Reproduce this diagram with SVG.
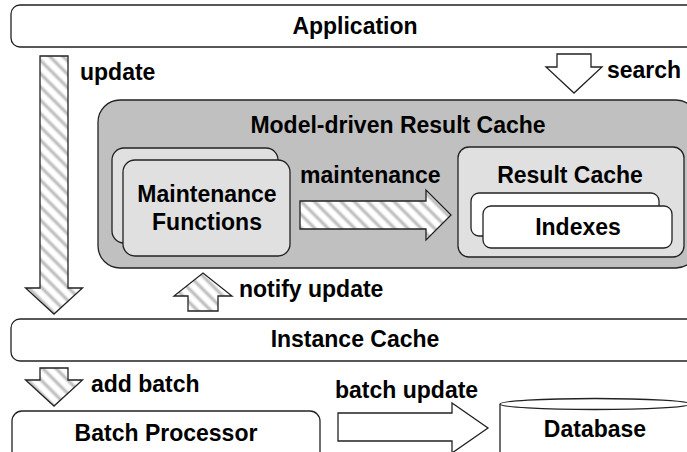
<svg xmlns="http://www.w3.org/2000/svg" width="687" height="452" viewBox="0 0 687 452">
<defs>
<linearGradient id="stripeGrad" x1="0" y1="0" x2="1" y2="0">
<stop offset="0" stop-color="#ffffff"/>
<stop offset="0.2" stop-color="#ffffff"/>
<stop offset="0.5" stop-color="#b4b4b4"/>
<stop offset="0.8" stop-color="#ffffff"/>
<stop offset="1" stop-color="#ffffff"/>
</linearGradient>
<pattern id="hatch" patternUnits="userSpaceOnUse" width="9.4" height="9.4" patternTransform="rotate(-45)">
<rect x="0" y="0" width="9.4" height="9.4" fill="url(#stripeGrad)"/>
</pattern>
<style>
.box{stroke:#222;stroke-width:1.3;}
.t{font-family:"Liberation Sans",Arial,sans-serif;font-weight:bold;font-size:23px;fill:#000;}
.c{text-anchor:middle;}
.arrow{stroke:#222;stroke-width:1.3;stroke-linejoin:miter;}
.hatch{fill:url(#hatch);}
.white{fill:#fff;}
</style>
</defs>

<g id="application">
<rect class="box" x="11" y="5" width="689" height="42" rx="9" fill="#fff"/>
<text class="t c" x="355" y="34">Application</text>
</g>

<g id="model-driven-result-cache">
<rect class="box" x="98" y="100" width="600" height="168" rx="22" fill="#c0c0c0"/>
<text class="t c" x="398" y="133">Model-driven Result Cache</text>
</g>

<g id="maintenance-functions">
<rect class="box" x="112" y="148" width="166" height="95" rx="12" fill="#e0e0e0"/>
<rect class="box" x="123" y="160" width="167" height="96" rx="12" fill="#e0e0e0"/>
<text class="t c" x="207" y="202">Maintenance</text>
<text class="t c" x="207" y="230">Functions</text>
</g>

<g id="result-cache">
<rect class="box" x="458" y="147" width="226" height="110" rx="11" fill="#e0e0e0"/>
<text class="t c" x="570" y="183">Result Cache</text>
</g>

<g id="indexes">
<rect class="box" x="471" y="193" width="188" height="43" rx="8" fill="#fff"/>
<rect class="box" x="483" y="206" width="189" height="42" rx="8" fill="#fff"/>
<text class="t c" x="578" y="235">Indexes</text>
</g>

<g id="instance-cache">
<rect class="box" x="11" y="319" width="689" height="42" rx="9" fill="#fff"/>
<text class="t c" x="355" y="347">Instance Cache</text>
</g>

<g id="batch-processor">
<rect class="box" x="12" y="411" width="308" height="60" rx="10" fill="#fff"/>
<text class="t c" x="166" y="441">Batch Processor</text>
</g>

<g id="database">
<path class="box" d="M500,404 L500,470 L690,470 L690,404" fill="#fff"/>
<ellipse class="box" cx="595" cy="404" rx="95" ry="5.5" fill="#fff"/>
<text class="t c" x="595" y="437">Database</text>
</g>

<g id="connectors">
<polygon class="arrow hatch" points="40,56 68,56 68,288 82.5,288 54,314 25.5,288 40,288"/>
<text class="t" x="80" y="80">update</text>

<polygon class="arrow white" points="557,54 591,54 591,67 602,67 574,93 546,67 557,67"/>
<text class="t" x="607" y="78">search</text>

<polygon class="arrow hatch" points="300,201 426,201 426,190 451,215 426,240 426,229 300,229"/>
<text class="t" x="300" y="183">maintenance</text>

<polygon class="arrow hatch" points="188,311 218,311 218,296 232,296 203,273 174,296 188,296"/>
<text class="t" x="239" y="297">notify update</text>

<polygon class="arrow hatch" points="40,368 68,368 68,380 82.5,380 54,406 25.5,380 40,380"/>
<text class="t" x="91" y="392">add batch</text>

<polygon class="arrow white" points="338,413 452,413 452,403 488,428 452,453 452,441 338,441"/>
<text class="t" x="335" y="398">batch update</text>
</g>
</svg>
